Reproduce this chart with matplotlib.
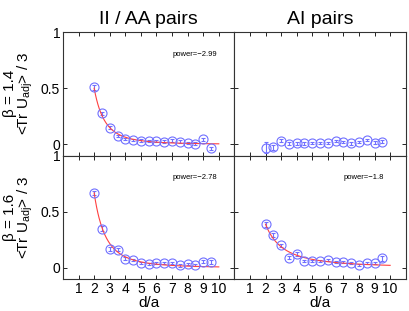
import numpy as np
import matplotlib
matplotlib.use("Agg")
import matplotlib.pyplot as plt

plt.rcParams['font.family'] = ['Liberation Sans', 'DejaVu Sans']
plt.rcParams['mathtext.fontset'] = 'custom'
plt.rcParams['mathtext.rm'] = 'Liberation Sans'
plt.rcParams['mathtext.it'] = 'Liberation Sans'

d = [2, 2.5, 3, 3.5, 4, 4.5, 5, 5.5, 6, 6.5, 7, 7.5, 8, 8.5, 9, 9.5]

ii_14 = [0.506, 0.275, 0.148, 0.071, 0.047, 0.036, 0.033, 0.030, 0.030, 0.024, 0.033, 0.024, 0.012, 0.006, 0.044, -0.036]
ii_14_err = [0.02, 0.015, 0.012, 0.01, 0.01, 0.01, 0.01, 0.01, 0.01, 0.01, 0.01, 0.01, 0.01, 0.01, 0.012, 0.015]
ai_14 = [-0.030, -0.027, 0.033, 0.006, 0.009, 0.008, 0.009, 0.009, 0.009, 0.030, 0.018, 0.008, 0.020, 0.039, 0.015, 0.024]
ai_14_err = [0.05, 0.02, 0.015, 0.012, 0.012, 0.01, 0.01, 0.01, 0.01, 0.01, 0.01, 0.01, 0.01, 0.012, 0.012, 0.015]
ii_16 = [0.667, 0.348, 0.167, 0.161, 0.080, 0.068, 0.045, 0.033, 0.039, 0.039, 0.039, 0.021, 0.030, 0.027, 0.054, 0.050]
ii_16_err = [0.02, 0.02, 0.02, 0.015, 0.012, 0.01, 0.01, 0.01, 0.01, 0.01, 0.01, 0.01, 0.01, 0.01, 0.012, 0.02]
ai_16 = [0.387, 0.292, 0.200, 0.089, 0.122, 0.062, 0.060, 0.060, 0.068, 0.050, 0.054, 0.042, 0.024, 0.039, 0.039, 0.083]
ai_16_err = [0.02, 0.015, 0.015, 0.015, 0.015, 0.01, 0.01, 0.01, 0.012, 0.01, 0.01, 0.01, 0.01, 0.01, 0.01, 0.025]

fit_power = {'ii_14': -2.99, 'ii_16': -2.78, 'ai_16': -1.8}
fit_amp = {'ii_14': 3.97, 'ii_16': 4.58, 'ai_16': 1.35}

col_titles = ['II / AA pairs', 'AI pairs']
row_labels = ['\u03b2 = 1.4', '\u03b2 = 1.6']
xticks = [1, 2, 3, 4, 5, 6, 7, 8, 9, 10]

fig = plt.figure(figsize=(4.09, 3.11), dpi=100)
left, bottom, w, h = 0.154, 0.103, 0.419, 0.397

panels = [
    (0, 0, ii_14, ii_14_err, 'ii_14'),
    (0, 1, ai_14, ai_14_err, None),
    (1, 0, ii_16, ii_16_err, 'ii_16'),
    (1, 1, ai_16, ai_16_err, 'ai_16'),
]
blue = '#7070ff'
for r, c, y, e, key in panels:
    ax = fig.add_axes([left + c * w, bottom + (1 - r) * h, w, h])
    ax.errorbar(d, y, yerr=e, fmt='o', mfc='none', mec=blue, ecolor=blue,
                ms=6.5, mew=0.8, elinewidth=0.8, capsize=1.5, capthick=0.8)
    if key is not None:
        xf = np.linspace(2, 10, 200)
        ax.plot(xf, fit_amp[key] * xf ** fit_power[key], color='#ff4040', lw=0.8)
        ax.text(7.0, 0.8, 'power=\u2212' + str(abs(fit_power[key])), fontsize=5.5,
                va='center', ha='left')
    ax.set_xlim(0, 11)
    ax.set_ylim(-0.1, 1)
    ax.set_xticks(xticks)
    ax.set_yticks([0, 0.5, 1])
    ax.set_yticklabels(['0', '0.5', '1'])
    ax.tick_params(direction='in', top=True, right=True, length=3, width=0.6,
                   labelsize=10, pad=2)
    for s in ax.spines.values():
        s.set_linewidth(0.8)
        s.set_color('#333333')
    if c == 1:
        ax.tick_params(labelleft=False)
    if r == 0:
        ax.tick_params(labelbottom=False)
        ax.set_title(col_titles[c], fontsize=14, pad=6)
    else:
        ax.set_xlabel('d/a', fontsize=11, labelpad=0)
    if c == 0:
        yc = bottom + (1 - r) * h + h / 2
        fig.text(0.025, yc, row_labels[r], rotation=90, fontsize=11,
                 ha='center', va='center')
        fig.text(0.063, yc, r'<Tr U$_{\mathrm{adj}}$> / 3', rotation=90,
                 fontsize=11, ha='center', va='center')

fig.savefig('out.png', dpi=100)
